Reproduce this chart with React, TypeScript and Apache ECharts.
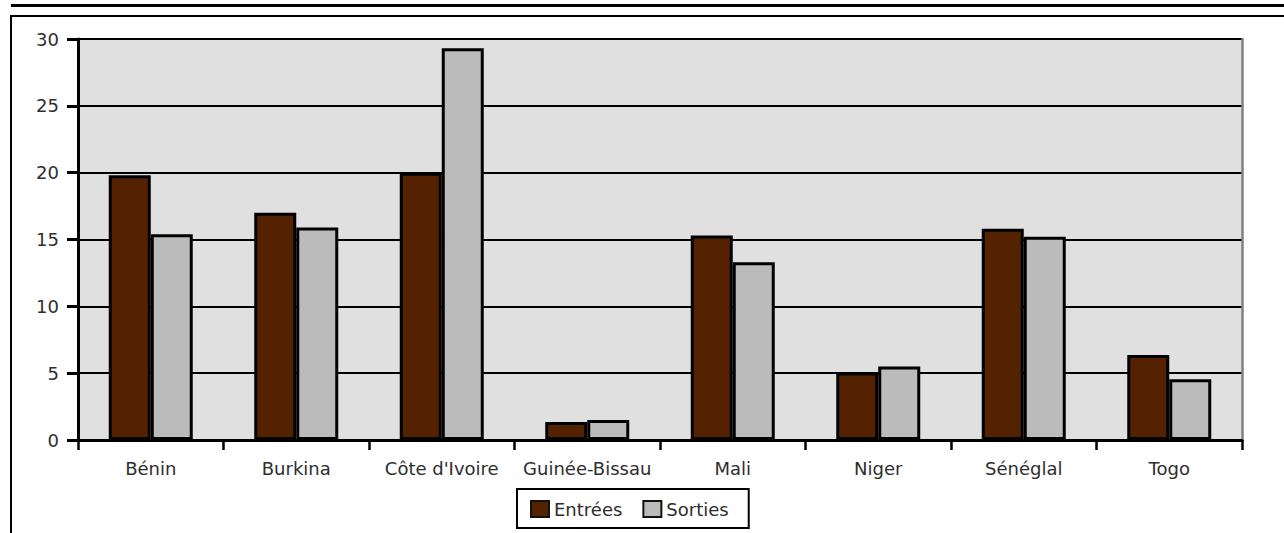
import React, { useEffect, useRef } from "react";
import * as echarts from "echarts";

// Countries along the horizontal axis
const categories = [
  "Bénin",
  "Burkina",
  "Côte d'Ivoire",
  "Guinée-Bissau",
  "Mali",
  "Niger",
  "Sénéglal",
  "Togo",
];

// Inflows and outflows per country
const entrees = [19.8, 17.0, 20.0, 1.35, 15.3, 5.05, 15.8, 6.35];
const sorties = [15.4, 15.9, 29.3, 1.5, 13.3, 5.5, 15.2, 4.55];

const seriesNames = ["Entrées", "Sorties"];
const yTicks = { min: 0, max: 30, interval: 5 };

const FONT = "'DejaVu Sans', 'Liberation Sans', Arial, sans-serif";
const TEXT_COLOR = "#2e2e2e";

export default function App() {
  const ref = useRef<HTMLDivElement>(null);

  useEffect(() => {
    if (!ref.current) return;
    const chart = echarts.init(ref.current, undefined, { renderer: "svg" });

    const barStyle = (color: string) => ({
      color,
      borderColor: "#000",
      borderWidth: 3,
    });

    chart.setOption({
      animation: false,
      backgroundColor: "#fff",
      textStyle: { fontFamily: FONT },
      grid: {
        left: 78,
        right: 42,
        top: 39,
        bottom: 93,
        show: true,
        backgroundColor: "#e0e0e0",
        borderWidth: 0,
      },
      legend: {
        data: seriesNames,
        left: 517,
        top: 489,
        orient: "horizontal",
        backgroundColor: "#fff",
        borderColor: "#000",
        borderWidth: 2,
        borderRadius: 0,
        padding: [11, 20, 10, 13],
        itemWidth: 18,
        itemHeight: 16,
        itemGap: 20,
        icon: "rect",
        itemStyle: { borderColor: "#111", borderWidth: 2 },
        textStyle: { fontFamily: FONT, fontSize: 18, color: TEXT_COLOR },
      },
      xAxis: {
        type: "category",
        data: categories,
        boundaryGap: true,
        axisLine: { show: true, lineStyle: { color: "#000", width: 3 } },
        axisTick: {
          show: true,
          alignWithLabel: false,
          length: 10,
          lineStyle: { color: "#000", width: 2.5 },
        },
        axisLabel: {
          interval: 0,
          margin: 19,
          fontFamily: FONT,
          fontSize: 18,
          color: TEXT_COLOR,
        },
        splitLine: { show: false },
      },
      yAxis: [
        {
          type: "value",
          min: yTicks.min,
          max: yTicks.max,
          interval: yTicks.interval,
          axisLine: { show: true, lineStyle: { color: "#000", width: 3 } },
          axisTick: {
            show: true,
            length: 11,
            lineStyle: { color: "#000", width: 3 },
          },
          axisLabel: {
            margin: 19,
            fontFamily: FONT,
            fontSize: 18,
            color: TEXT_COLOR,
          },
          splitLine: { show: true, lineStyle: { color: "#000", width: 2 } },
        },
        {
          type: "value",
          position: "right",
          min: yTicks.min,
          max: yTicks.max,
          interval: yTicks.interval,
          axisLine: { show: true, lineStyle: { color: "#808080", width: 2.5 } },
          axisTick: { show: false },
          axisLabel: { show: false },
          splitLine: { show: false },
        },
      ],
      series: [
        {
          name: seriesNames[0],
          type: "bar",
          data: entrees,
          barWidth: 42,
          barGap: "0%",
          itemStyle: barStyle("#552200"),
        },
        {
          name: seriesNames[1],
          type: "bar",
          data: sorties,
          barWidth: 42,
          barGap: "0%",
          itemStyle: barStyle("#bbbbbb"),
        },
      ],
      graphic: [
        {
          type: "line",
          shape: { x1: 11, y1: 5.5, x2: 1284, y2: 5.5 },
          style: { stroke: "#000", lineWidth: 3 },
          silent: true,
        },
        {
          type: "line",
          shape: { x1: 10, y1: 16, x2: 1284, y2: 16 },
          style: { stroke: "#000", lineWidth: 2 },
          silent: true,
        },
        {
          type: "line",
          shape: { x1: 11, y1: 15, x2: 11, y2: 533 },
          style: { stroke: "#000", lineWidth: 2 },
          silent: true,
        },
      ],
    });

    return () => chart.dispose();
  }, []);

  return (
    <div
      ref={ref}
      style={{ position: "absolute", left: 0, top: 0, width: 1284, height: 533 }}
    />
  );
}
